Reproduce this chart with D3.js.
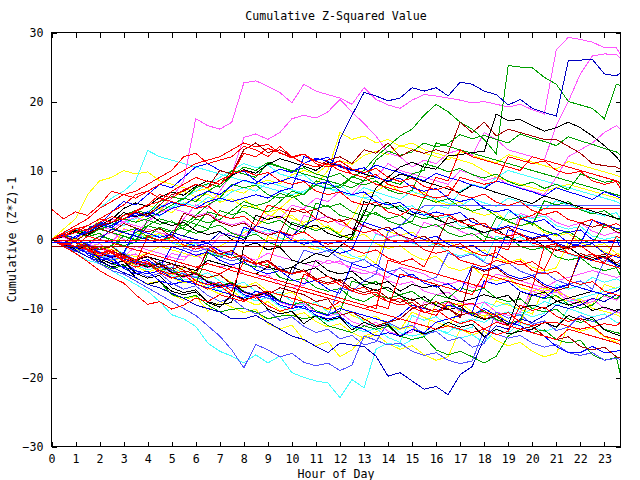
<!DOCTYPE html>
<html><head><meta charset="utf-8">
<script src="https://cdn.jsdelivr.net/npm/d3@7"></script>
<style>
body{margin:0;background:#fff}
svg{display:block}
text{font-family:"DejaVu Sans Mono","Liberation Mono",monospace;font-size:11.6px;fill:#000}
</style>
</head><body>
<svg id="chart" width="640" height="480"></svg>
<script>
// ---- data ----
const title = "Cumulative Z-Squared Value";
const xLabel = "Hour of Day";
const yLabel = "Cumulative (Z*Z)-1";
const hours = [0,0.5,1,1.5,2,2.5,3,3.5,4,4.5,5,5.5,6,6.5,7,7.5,8,8.5,9,9.5,10,10.5,11,11.5,12,12.5,13,13.5,14,14.5,15,15.5,16,16.5,17,17.5,18,18.5,19,19.5,20,20.5,21,21.5,22,22.5,23,23.5,23.67];
const xTickValues = [0,1,2,3,4,5,6,7,8,9,10,11,12,13,14,15,16,17,18,19,20,21,22,23];
const yTickValues = [-30,-20,-10,0,10,20,30];

const M1 = [0,-0.5,-1,0.5,0,-0.4,1.5,1,2.5,4,6,8.5, 17.5,16.5,16,17, 22.7,23,22.2,21.3, 19.8,22.5,21.5,21, 20.5,19.6,22,20.3, 19.5,19,20.2,21, 20.8,20.5,20.2,19.8, 20,19.6,19.2,19.6, 18.8,18.2,27.5,29.3, 29,28.6,27.8,27.8, 26.8];
const M2 = [0,0.3,-0.5,-1,0.5,1,0,-0.5,2,1.5,1,3, 5,4.5,7,9.5, 14.8,15.3,14.5,15.5, 17.5,18,17.6,18.5, 20.3,18.5,16.8,15, 12.5,12,10.5,11.5, 11,12.5,13,12.2, 15.5,14.5,13,12.5, 12,11.5,16.5,20, 24,26.6,26.9,26.8, 26.2];
const M3 = [0,-0.4,-1,-1.5,-1.2,-2,-2.5,-1,-1.5,-2,-2.6,-3, -1,-1.5,0.5,1, 0.5,2,3.5,3, 5,4.5,6,5.5, 7,6.5,8.5,9, 11,10,9.5,9, 8.5,8,10,9.5, 8.5,9,8,7.5, 7,6.5,9,12, 13,14,15.5,16.5, 16];
const M4 = [0,0.5,1,2,1.5,3,2.5,2,1.5,1,0.5,0, -0.5,-1,-1.5,-2, -2.5,-3,-2,-2.5, -3,-3.5,-4,-3, -3.5,-4,-4.5,-5, -5.5,-4,-4.5,-5, -6,-6.5,-6,-7, -6.5,-5,-5.5,-6, -6.5,-7,-6,-5.5, -5,-4.5,-5,-5.5, -5.3];
const M5 = [0,0.5,-0.5,-1,-0.6,-2,-2.5,-2.1,-3.5,-4,-2,-2.5, -2.1,-3.5,-4,-3.6, -5,-5.5,-5.1,-6.5, -7,-6.6,-3,-3.5, -3.1,-4.5,-5,-4.6, -6,-6.5,-6.1,-7.5, -8,-7.6,-9,-9.5, -9.1,-10.5,-11,-10.6, -7,-7.5,-7.1,-8.5, -9,-8.6,-10,-10.5, -10.6];
const B1 = [0,-0.5,-1,0.5,0,1.5,1,0.5,0,-0.5,1,0.5, 0,-0.5,1,0.5, 0,2,1.5,1, 0.5,2,3,9, 14.5,18,21.3,20.8, 20.1,20.5,22,21.5, 22,20.8,22.8,22.5, 21.5,21,19.5,20.3, 19,18.4,17.9,25.9, 26,26.1,24,23.7, 24.2];
const B3 = [0,-0.5,-1.2,-2,-2.5,-3.2,-4,-4.5,-5,-4.5,-5.5,-6, -6.5,-7,-7.5,-8, -8.5,-7.5,-8,-9, -9.5,-10,-10.5,-11, -10,-10.5,-11,-11.5, -12,-11,-9.5,-10, -10.5,-9.5,-10,-11, -10,-11,-12,-12.5, -13.5,-14,-15.5,-16.4, -16.4,-15.5,-16.4,-16.2, -16];
const B4 = [0,-0.5,0.5,1,2,4,5.5,5,6.5,8,7.5,9, 10.5,11,10,9.5, 9.9,8.5,8,8.4, 9,8.5,8,8.4, 7,6.5,6.9,5.5, 5,5.4,4,3.5, 4,3.5,3.9,2.5, 2,1.5,2,1.5, 1,0.5,0.9,-0.5, -1,-0.6,-2,-2.5, -2.7];
const B5 = [0,0.5,1,1.5,2.5,2,3,3.5,4,3.5,4.5,5, 4.5,5.5,6,5.5, 6,6.5,6,7, 7.5,12,11.5,11.9, 10.5,10,10.4,9, 8.5,8.9,7.5,7, 7.4,6,5.5,5.9, 4.5,4,4.4,3, 2.5,2.9,1.5,1, 1.4,0,-0.5,-0.1, -1.2];
const B6 = [0,-0.8,-0.4,-2.2,-3,-2.6,-4.2,-5,-4.6,-6,-6.5,-6.1, -6,-6.5,-7,-6.6, -8,-8.5,-8.1,-9.5, -10,-9.6,-11,-11.5, -11.1,-12.5,-13,-14, -13.5,-14,-13,-13.5, -12,-11.5,-11,-10.5, -6,-6.5,-6.1,-7.5, -8,-8.5,-7,-6.5, -7,-7.5,-8,-7.5, -7.2];
const G1 = [0,-0.5,-1,-0.5,0.5,0,-0.5,1,2,1.5,1,0.5, 2,4,3.5,3, 5,4.5,4,5.5, 7,6.5,8.5,8, 7.5,9,10,12, 13.5,15,16,18, 19.6,18.5,17,16, 14.5,12.4,25.2,25, 24.9,23.5,22.5,20, 19.5,19,17.5,22.5, 22.3];
const G2 = [0,-1,-1.8,-1.4,-3.5,-4.2,-3.8,-5.5,-6.5,-6.1,-8,-8.5, -8.1,-9.5,-10.5,-10.1, -10,-10.5,-11.5,-11.1, -11,-11.5,-11.1,-12.5, -13,-13.5,-12.5,-13, -12.6,-14,-14.5,-14.1, -16,-16.7,-16.2,-17, -17.9,-16.9,-14,-13, -13.5,-13.1,-14.5,-15, -14.6,-16.7,-17.5,-17.1, -19.6];
const G3 = [0,0.5,1,2,1.5,1,0.5,0,2,3,2.5,2, 3.5,5,6,8, 7.5,7.9,6.5,6, 6.4,5,4.5,4.9, 3.5,3,2.5,5, 4.5,4.9,3.5,3, 3.4,2,1.5,1.9, 0.5,0,0.4,-1, -1.5,-1.1,-2.5,-3, -2.6,-4,-4.5,-4.1, -5.2];
const G4 = [0,-0.5,-1.2,-0.8,-2.8,-3.5,-4,-3,-3.5,-4.5,-4.1,-6, -6.5,-2,-2.5,-2.1, -3.5,-4,-3.6,-5.5, -6,-5.6,-7,-7.5, -7.1,-8.5,-9,-8, -8.5,-8.1,-9.5,-10, -8,-8.5,-7,-7.5, -7.1,-8.5,-9,-8.6, -10,-10.5,-10.1,-11.5, -12,-11.6,-13,-13.5, -13.6];
const G5 = [0,0.5,1,0.5,1.5,2,3,2.5,3,4,5,6, 5.5,7,8,10, 9.5,9,11,10.5, 10,9.5,9,8.5, 8,7.5,8.5,9, 8.5,8,9.5,10, 14,13.5,13,12.5, 12,11.5,11,10.5, 10,9.5,9,8.5, 8,7.5,7,6.5, 6.3];
const K1 = [0,-0.5,-1,-1.5,-1,-2,-2.5,-3,-2.5,-3,-3.5,-4, -4.5,-3,-3.5,-4, -4.5,-5,-4,-4.5, -4,-3,-2,-2.5, -1,0.5,3.7,7.5, 9,10.5,11.2,10.5, 10.2,12.1,12.3,12.6, 12.8,18.2,17.2,17.4, 16.5,15.7,16.2,17, 16.2,15,13.6,12, 11.2];
const K2 = [0,-0.5,-1.2,-0.8,-3,-4,-3.6,-5.5,-6.5,-6.1,-7.5,-8, -7.6,-9,-9.5,-9.1, -1,-0.5,-1.5,-1.1, -3,-3.5,-3.1,-4.5, -5,-4.6,-6,-6.5, -6.1,-7.5,-6.5,-7, -6.6,-8.5,-9,-8.6, -8,-8.5,-8.1,-10, -9.5,-10,-9,-8.5, -8,-7.5,-8,-7.5, -7];
const K3 = [0,-0.7,-1.4,-1,-2.8,-3.5,-3.1,-4.9,-5.6,-5.2,-7,-7.7, -7.3,-9.1,-9.8,-8, -8.7,-8.3,-10.1,-10.8, -10.4,-12.2,-11,-11.7, -11.3,-13.1,-12,-12.7, -12.3,-14.1,-13,-13.7, -13,-12,-12.7,-12.3, -14.1,-13,-13.7,-13.3, -13,-12,-12.7,-11, -11.7,-11.3,-13.1,-13.8, -13.9];
const D1 = [0,0.5,1,1.5,2,2.5,3,4,3.5,5,6.5,7, 8,7.5,10,9.5, 13,14,12.6,13, 12,11,10.5,11.5, 12,11,13,12.5, 14,12,13,12.5, 13,12.5,17,15.5, 17,15,16,15.5, 15,14.5,14.5,13.5, 12.5,11,10.7,10.5, 10.2];
const D2 = [0,0.5,-0.5,-1,-2,-1.5,-2.5,-3,-3.5,-4,-3.5,-4.5, -5,-5.5,-5.1,-6.5, -7,-6.6,-8,-7, -7.5,-8,-9,-8.6, -11,-10.5,-11.5,-12.5, -12,-11.5,-10,-9.5, -9,-10,-11,-10.5, -11.5,-11.1,-12.5,-13, -12.6,-14,-14.5,-14.1, -15.5,-16,-15.6,-17, -17.2];
const R1 = [0,1,2,3,4.5,5.5,6.5,7,8,9,10,12, 12.5,11,11.5,12, 13.5,13,12,13.5, 12,11,10.5,11, 10,9.5,9,8, 7.5,7,6.5,6, 9,8.5,13,12, 11.5,11,10.5,10, 12,11.5,11,10.5, 10,9.5,9,8.5, 8.2];
const R2 = [4.4,3,4,3.5,5,7,6.5,6,7,6,5.5,5, 4.5,4.9,3.5,3, 3.4,2,5,4.5, 4,4.4,3,2.5, 2.9,1.5,1,1.4, 0,-0.5,-0.1,-1.5, -2,-1.6,-3,-3.5, -4,-3,-3.5,-3.1, -4.5,-5,-4.6,-6, -6.5,-6.1,-7.5,-8, -8.2];
const R3 = [0,-0.5,-1,-1.5,-1,-2,-2.5,-3,-2,-2.5,-3,-3.5, -4,-4.5,-5,-4, -4.5,-5,-5.5,-6, -6.5,-7,-7.5,-8, -8.5,-9,-9.5,-10, -3,-3.5,-4,-4.5, -5,-5.5,-6,-6.5, -7,-1,-1.5,3, 3.5,4.5,4.5,4.5, 4.5,4.5,4.5,4.5, 4.5];
const R4 = [0,-1,-2,-3.2,-4.5,-5.5,-6.3,-8,-9.4,-9,-10.1,-9.5, -8.5,-9,-8,-8.5, -9,-8,-7.5,-8, -8.5,-9,-9.5,-10, -9,-9.5,-10,-10.5, -11,-11.5,-12,-12.5, -13,-12.5,-13,-13.5, -13,-12,-12.5,-13, -13.5,-14,-14.5,-13, -13.5,-14,-14.5,-15, -15.2];
const R5 = [0,0.5,1.5,2,3,2.5,3.5,4,5,5.5,7,8, 9,8.4,8,9.5, 10,9.3,9.7,8.5, 8,8.4,7,6.5, 6.9,5.5,5,5.4, 4,3.5,4.5,4, 3.3,3.7,2.5,2, 2.4,1,0.5,0.9, -0.5,-1,-0.6,-2, -2.5,-2.1,-3.5,-4, -4.2];
const R6 = [0,-0.6,-0.3,-1.5,-2.1,-1.7,-3,-3.6,-3.2,-4.5,-5,-4.6, -6,-6.6,-6.2,-7.5, -3,-3.6,-3.2,-4.5, -5,-4.6,-6,-6.5, -6.1,-7.5,-8,-7.6, -9,-9.5,-9.1,-10.5, -11,-9,-9.6,-9.2, -10.5,-11,-10.6,-12, -12.5,-12.1,-12,-12.6, -13,-12.6,-14,-14.5, -14.7];
const R7 = [0,-0.5,-1,0.5,0,-0.5,-1,-1.5,-2,-2.5,-3,-3.5, -4,-3.5,-4,-4.5, -5,-5.5,-6,-6.5, -7,-7.5,-8,-8.5, -9,-9.5,-10,-9.5, -10,-5,-5.5,-6, -6.5,-7,-7.5,-8, -5,-5.5,-6,-6.5, -7,-1,-1.5,-2, -2.5,-3,-3.5,0.5, 0.2];
const R8 = [0,0.5,1,2,3,4,5,6.5,7,8,9,10, 11,11.5,12,13, 14,13.4,13.8,12.5, 12,12.4,11,10.5, 10.9,9.5,9,9.4, 8,7.5,7.9,6.5, 6,6.4,9,8.5, 8,8.4,12,11.5, 11,11.4,10,9.5, 9.9,8.5,8,8.4, 7.3];
const Y1 = [0,1.5,3,6.5,8.5,9,10,9.5,9.8,8.5,8,7.5, 7,7.4,6,5.5, 5.9,4.5,4,4.4, 3,2.5,2.9,1.5, 1,3,6.5,7, 8,7,6.5,6.9, 5.5,5,5.4,4, 3.5,3.9,2.5,2, 2.4,1,0.5,0.9, -0.5,-1,-0.6,-2, -2.2];
const Y2 = [0,-0.5,-1,-1.5,-1,-1.5,-2,-2.5,-2,-1,-1.5,-2, -2.5,-2,-1,0, 1,2,3,4.5, 6,7,8,10, 15.5,14.5,15,14, 14.5,13.5,14,13, 12.5,12,11.5,11, 10,9,8.5,8, 7.5,7,7.5,8, 7.5,7,6.5,6, 5.8];
const Y3 = [0,-0.9,-0.4,-1.6,-2.3,-1.9,-3.1,-3.6,-3.2,-4.5,-5.2,-4, -4.8,-5.6,-5.1,-6.3, -6.9,-6.2,-7.5,-8.1, -7.6,-9,-9.4,-10.2, -9.6,-11,-11.7,-11.1, -12.4,-13,-12.6,-14, -9,-9.8,-9.2,-10.5, -11.1,-10.6,-12,-12.5, -7,-7.8,-7.3,-8.5, -9.1,-8.6,-10,-10.5, -10.7];
const Y4 = [0,0.5,1.2,0.8,3,2.4,3.5,4.1,5,4.3,6,7, 6.2,6.6,5.4,5.9, 4.6,4.9,3.6,3.1, 3.5,2.1,1.6,2, 0.7,0.2,0.8,-0.6, -1.3,-0.9,-2.2,-3, -2.4,-4,-4.5,-3.9, -5.4,-6,-5.5,-7, -7.5,-6.9,-8.3,-9, -8.6,-10,-10.4,-10.9, -11.2];
const Y5 = [0,-0.8,-1.7,-1.2,-3.2,-4,-3.6,-5.6,-6.4,-6,-8,-8.8, -8.2,-10.4,-9,-9.8, -10.6,-10.1,-12.2,-13, -12.4,-14.6,-15.4,-14.8, -17,-16,-14,-13.4, -12.5,-13.1,-10.5,-11.3, -12,-12.6,-10.2,-10.9, -11.5,-8.9,-9.5,-10.1, -10.8,-7,-7.6,-8.3, -8.9,-9.5,-6.5,-7.1, -6.8];
const C1 = [0,1,2,3,4.5,6,7,8.5,12.9,12,11.5,11, 10.5,10,9.5,9, 8.5,8,7.5,7, 6.5,7,8,7.5, 7,6.5,6,5.5, 5,4.5,4,3.5, 5,4.5,7,8, 7.5,9,10,9.5, 9,8.5,8,7.5, 7,6.5,6,5.5, 5.2];
const C2 = [0,-1,-2,-3,-3.5,-4.5,-5.5,-6.5,-7.5,-9,-10.9,-11.5, -12.6,-15,-16.2,-16.9, -17.9,-16.7,-17.9,-16.9, -19.3,-20,-20.5,-20.8, -22.9,-20.3,-21.5,-15.9, -15,-15.5,-14.5,-14, -13,-13.5,-12,-11.5, -12,-11,-10.5,-11, -10,-9,-9.5,-9, -8.5,-8,-7.5,-7, -6.8];
const C3 = [0,-0.6,-0.2,-1.5,-2.1,-1.7,-3,-3.6,-3.1,-4.5,-4,-4.9, -5.4,-4.8,-6,-6.7, -6.2,-7.5,-8.1,-7.6, -9,-9.5,-9.1,-10.5, -11,-10.4,-12,-12.5, -12.1,-13.5,-14,-13.6, -13,-13.7,-14.3,-13.8, -15,-13,-13.6,-12, -12.7,-13.3,-12.8,-10, -10.6,-11.2,-10.8,-12, -12.2];
const C4 = [0,1,1.5,1,2,3,2.5,3,4,5,4.5,6, 7,8,9,10, 11,10.4,10.8,9.5, 9,9.4,8,7.5, 7.9,6.5,6,6.4, 5,4.5,4.9,3.5, 3,3.4,2,1.5, 1,1.4,4,3.5, 3,3.4,2,1.5, 1.9,0.5,0,0.4, -0.6];
const N1 = [0,-0.8,-1.6,-2.5,-3.2,-4,-4.8,-5.5,-6.5,-7,-7.8,-8.5, -9.5,-10,-10.5,-11.5, -11.5,-11,-12,-13, -14,-14.5,-15.5,-16.4, -15,-15.3,-15.5,-16.9, -19.8,-19.3,-20.5,-21.7, -21.3,-22.5,-19.6,-18.4, -14.3,-12.5,-13,-11.5, -12,-11,-9.5,-10, -9.5,-8.5,-9,-8, -8.3];
const P2 = [0,-0.6,-1.2,-1.8,-2.4,-3,-2.5,-3,-3.5,-4,-4.5,-5, -5.5,-6,-6.5,-7, -7.5,-8,-8.5,-9, -9.5,-10,-10.5,-11, -7,-7.5,-6,-5, 1,2,3.5,4.9, 4.9,4.9,4.9,4.9, 4.9,4.9,4.9,4.9, 4.9,4.9,4.9,4.9, 4.9,4.9,4.9,4.9, 4.9];
const P3 = [0,-0.8,-1.5,-2.5,-3.5,-4.5,-5,-6,-7,-8,-9,-10, -11,-12.5,-14,-16, -18.6,-15.2,-16,-17, -16.5,-17.8,-18.3,-17.9, -19,-18.2,-14,-14.6, -15.3,-15,-16.2,-16.8, -16.4,-17.5,-18,-17.6, -13,-13.7,-14.3,-13.9, -15,-15.6,-15.2,-16.4, -16.8,-16.4,-17.5,-17.2, -17.4];
const S1 = [0,0.6,0.2,1.5,2.4,2,3.5,4.2,3.8,5.5,6.2,5.8, 7.5,8.1,7.6,9.2, 10.5,10,11.2,10.6, 9.8,10.4,9.5,9, 9.6,8.3,7.9,8.5, 7.2,6.6,7.1,11, 10.5,9.8,10.3,9.4, 8.9,9.5,8.4,7.8, 8.3,7.4,8,7.2, 9.5,8.9,8.3,8.6, 8];
const S2 = [0,-0.7,-0.2,-1.4,-2,-1.5,-2.8,-3.4,-2.9,-4.1,-1,-1.6, -2.3,-1.8,-3,-3.7, -3.2,-4.4,-5,-4.5, -5.8,-6.4,-5.9,-7.2, -7.8,-3.5,-4.1,-3.6, -4.8,-5.5,-5,-6.3, -6.9,-6.4,-7.6,-3.8, -4.4,-3.9,-5.1,-5.7, -5.2,-6.5,-7.1,-6.6, -2.5,-3.1,-2.6,-3.8, -4];
const S3 = [0,0.8,1.6,1.2,2.5,3.3,2.9,4.2,5,6.5,6,7.2, 8,7.5,8.6,9.4, 12.5,12,13.2,12.6, 11.8,12.4,11.3,10.8, 11.4,10.2,9.7,10.3, 9,8.4,8.9,7.7, 7.2,7.7,6.5,6, 6.6,5.4,4.9,5.5, 4.2,3.6,4.1,2.9, 2.4,2.9,1.7,2.3, 2];
const S4 = [0,-0.5,-1.1,-0.7,-2,-2.6,-2.1,-3.4,-4,-3.5,-4.8,-5.4, -4.9,-6.2,-6.8,-6.3, -7.6,-8.2,-7.7,-9, -4,-4.6,-4.1,-5.4, -6,-5.5,-6.8,-7.4, -6.9,-8.2,-8.8,-8.3, -9.6,-10.2,-9.7,-11, -11.6,-11.1,-12.4,-7.5, -8.1,-7.6,-8.9,-9.5, -9,-10.3,-9.8,-10.4, -10];
const S5 = [0,0.4,1,0.5,1.6,2.4,2,3.3,3.9,3.4,4.7,5.3, 4.8,6.1,5.6,6.9, 7.5,7,8.3,7.8, 7.2,6.7,8,7.4, 6.8,6.3,7.5,6.9, 6.3,5.8,7,6.4, 5.8,5.3,4.8,5.9, 5.3,4.8,6,5.4, 4.9,4.4,5.6,5, 4.4,3.9,3.4,3.9, 3];
const S6 = [0,-0.6,-1.2,-0.8,-2.1,-2.7,-2.2,-3.5,-4.1,-3.6,-4.9,-5.5, -5,-6.3,-6.9,-6.4, -7.7,-8.3,-7.8,-9.1, -9.7,-9.2,-10.5,-11.1, -10.6,-11.9,-12.5,-12, -13.3,-13.9,-13.4,-9, -9.6,-9.1,-10.4,-11, -10.5,-11.8,-12.4,-11.9, -7.5,-8.1,-7.6,-8.9, -9.5,-9,-8.2,-8.8, -8.3];
const S7 = [0,0.5,-0.1,1,2.2,1.7,3,2.5,3.8,4.4,3.9,5.2, 5.8,5.3,6.6,7.2, 6.7,8,8.6,8.1, 9.4,10,9.5,10.8, 11.4,10.9,12.2,12.8, 12.3,13.6,13.1,12.5, 12,11.5,12.7,12.2, 11.6,11.1,12.3,11.8, 11.2,10.7,10.2,11.3, 10.8,10.3,9.8,9.3, 9];
const S8 = [0,-0.5,0.2,-0.9,-1.5,-1,-2.3,-2.9,-2.4,-3.7,-4.3,-3.8, -5.1,-1.5,-2.1,-1.6, -2.9,-3.5,-3,-4.3, -4.9,-4.4,-5.7,-6.3, -5.8,-7.1,-7.7,-7.2, -8.5,-9.1,-8.6,-9.9, -10.5,-10,-11.3,-4, -4.6,-4.1,-5.4,-6, -5.5,-6.8,-7.4,-6.9, -2,-2.6,-2.1,-3.4, -3];
const S9 = [0,-0.9,-1.8,-1.3,-2.7,-3.6,-3.1,-4.5,-5.4,-4.9,-6.3,-7.2, -6.7,-8.1,-9,-8.5, -9.9,-10.8,-10.3,-11.7, -11.2,-12.6,-13.5,-13, -14.4,-13.9,-15.3,-14.8, -12,-12.9,-12.4,-13.8, -13.3,-14.7,-14.2,-15.6, -15.1,-10.5,-11.4,-10.9, -12.3,-11.8,-13.2,-12.7, -11,-11.9,-11.4,-10.5, -10.2];
const S10 = [0,-0.5,-1.1,-0.6,-1.9,-2.5,-2,-3.3,-3.9,-3.4,-4.7,-5.3, -4.8,-6.1,-6.7,-6.2, -7.5,-8.1,-7.6,-8.9, -9.5,-9,-10.3,-10.9, -10.4,-6,-6.6,-6.1, -7.4,-8,-7.5,-8.8, -9.4,-8.9,-10.2,-10.8, -10.3,-11.6,-12.2,-11.7, -8,-8.6,-8.1,-9.4, -10,-9.5,-8,-8.6, -8.1];
const S11 = [0,-0.8,-0.3,-1.6,-2.4,-1.9,-3.2,-4,-3.5,-4.8,-5.6,-5.1, -6.4,-7.2,-6.7,-8, -8.8,-8.3,-9.6,-10.4, -9.9,-5,-5.8,-5.3, -6.6,-7.4,-6.9,-8.2, -9,-8.5,-9.8,-10.6, -10.1,-11.4,-12.2,-11.7, -13,-13.8,-13.3,-9.5, -10.3,-9.8,-11.1,-11.9, -11.4,-12.7,-12.2,-12.5, -12];
const S12 = [0,0.7,0.2,1.4,2.2,1.7,3,3.8,3.3,4.6,5.4,4.9, 6.2,7,6.5,7.8, 8.6,8.1,9.4,10.2, 9.7,11,11.8,11.3, 10.7,10.2,9.6,10.8, 10.2,9.7,9.1,8.5, 9.6,9,8.5,7.9, 7.4,8.5,8,7.4, 6.9,6.3,7.5,6.9, 6.4,5.8,6.9,6.3, 6];
const S13 = [0,0.5,1.3,0.8,2.1,2.9,4.5,5.3,4.8,6.1,6.9,6.4, 7.7,8.5,8,9.3, 10.1,9.6,10.9,11.7, 11.2,10.6,10,11.2, 10.6,10.1,9.5,9, 8.4,9.5,9,8.4, 7.9,7.3,6.8,7.9, 7.4,6.8,6.3,5.7, 5.2,6.3,5.8,5.2, 4.7,4.1,3.6,3.1, 3];
const S14 = [0,-0.6,-1.3,-0.9,-2.2,-2.9,-2.4,-3.7,-4.4,-3.9,-5.2,-5.9, -5.4,-6.7,-7.4,-6.9, -8.2,-8.9,-8.4,-9.7, -10.4,-9.9,-11.2,-11.9, -11.4,-12.7,-13.4,-12.9, -14.2,-14.9,-11,-11.7, -11.2,-12.5,-13.2,-12.7, -9,-9.7,-9.2,-10.5, -11.2,-10.7,-6.5,-7.2, -6.7,-5.5,-6.2,-5.7, -6];
const S15 = [0,-0.5,0.2,-0.8,-1.4,-0.9,0.5,-0.1,0.4,1.8,1.2,1.7, 3,2.4,2.9,4.2, 5.5,4.9,5.4,6.7, 6.1,6.6,7.9,7.3, 7.8,9.1,8.5,11.5, 12.8,12.2,12.7,14, 13.4,13.9,15.2,14.6, 15.1,14.5,14,15.3, 14.7,14.2,13.6,14.9, 14.3,13.8,13.2,12.7, 12.2];
const S16 = [0,-0.7,-1.5,-1,-2.3,-3.1,-2.6,-3.9,-4.7,-4.2,-5.5,-6.3, -5.8,-7.1,-7.9,-7.4, -8.7,-9.5,-9,-10.3, -11.1,-10.6,-11.9,-12.7, -12.2,-13.5,-14.3,-13.8, -15.1,-15.9,-15.4,-16.7, -17.5,-17,-13,-13.8, -13.3,-14.6,-15.4,-14.9, -16.2,-17,-16.5,-12.5, -13.3,-12.8,-14.1,-14.9, -14.4];
const T1 = [0,-0.6,-1.2,-0.7,-1.9,-2.5,-2,1.5,0.9,0.3,0.8,-0.4, -1,-0.5,-1.7,-2.3, 1.8,1.2,0.6,1.1, -0.1,-0.7,-0.2,-1.4, -2,-1.5,2.5,1.9, 1.3,1.8,0.6,0, 0.5,-0.7,-1.3,-0.8, -2,-2.6,1.4,0.8, 0.2,0.7,-0.5,-1.1, -0.6,2.8,2.2,1.6, 1.5];
const T2 = [0,0.5,1.4,0.9,2.3,1.7,1.1,1.6,0.4,-0.2,0.3,2.8, 2.2,1.6,2.1,0.9, 0.3,0.8,-0.4,-1, 2.5,1.9,1.3,1.8, 0.6,0,4.2,3.6, 3,3.5,2.3,1.7, 2.2,1,0.4,0.9, -0.3,3.2,2.6,2, 2.5,1.3,0.7,1.2, 0,-0.6,2.1,1.5, 1.3];
const T3 = [0,-0.7,-0.2,-1.4,-2,-1.5,-2.7,-3.3,0.5,-0.1,0.4,-0.8, -1.4,-0.9,-2.1,-2.7, -2.2,-3.4,-4,1.2, 0.6,1.1,-0.1,-0.7, -0.2,-1.4,-2,-1.5, -2.7,-3.3,-2.8,-4, -0.5,-1.1,-0.6,-1.8, -2.4,-1.9,-3.1,-3.7, -3.2,-4.4,-0.8,-1.4, -0.9,-2.1,-2.7,-2.2, -2.5];
const T4 = [0,0.6,0.1,1.3,1.9,1.4,2.6,3.2,2.7,3.9,4.5,4, 3.4,3.9,2.7,2.1, 2.6,1.4,0.8,1.3, 0.1,3.5,2.9,3.4, 2.2,1.6,2.1,0.9, 0.3,0.8,-0.4,2.5, 1.9,2.4,1.2,0.6, 1.1,-0.1,-0.7,3.8, 3.2,3.7,2.5,1.9, 2.4,1.2,0.6,1.1, 0.8];
const T5 = [0,-0.5,0.3,-0.8,-1.4,-0.9,-2.1,0.8,0.2,0.7,-0.5,-1.1, -0.6,-1.8,-2.4,-1.9, 1.5,0.9,1.4,0.2, -0.4,0.1,-1.1,-1.7, -1.2,-2.4,-3,0.8, 0.2,0.7,-0.5,-1.1, -0.6,-1.8,-2.4,-1.9, -3.1,0.5,-0.1,0.4, -0.8,-1.4,-0.9,-2.1, -2.7,-2.2,-3.4,-4, -3.6];
const T6 = [0,0.4,1.1,0.6,1.8,2.4,3.9,3.3,3.8,2.6,2,2.5, 1.3,0.7,1.2,0, -0.6,3.5,2.9,3.4, 2.2,1.6,2.1,0.9, 0.3,0.8,5.5,4.9, 5.4,4.2,3.6,4.1, 2.9,2.3,2.8,1.6, 1,1.5,0.3,-0.3, 0.2,-1,-1.6,-1.1, -2.3,-2.9,-2.4,-3.6, -3.8];
const T7 = [0,-0.6,0,-1.2,-0.6,-1.8,1.6,1,0.4,0.9,-0.3,-0.9, -0.4,-1.6,-2.2,-1.7, -2.9,-3.5,0.4,-0.2, 0.3,-0.9,-1.5,-1, -2.2,-2.8,-2.3,-3.5, 1.2,0.6,1.1,-0.1, -0.7,-0.2,-1.4,-2, -1.5,-2.7,-3.3,-2.8, -4,-4.6,-4.1,-0.5, -1.1,-0.6,-1.8,-2.4, -2.6];
const T8 = [0,0.5,-0.2,0.9,1.6,1,2.3,1.7,1.1,1.6,0.4,3.8, 3.2,3.7,2.5,1.9, 2.4,1.2,0.6,1.1, 4.5,3.9,4.4,3.2, 2.6,3.1,1.9,1.3, 1.8,0.6,0,0.5, -0.7,3.2,2.6,3.1, 1.9,1.3,1.8,0.6, 0,0.5,-0.7,-1.3, 2.4,1.8,2.3,1.1, 1];
const T9 = [0,-0.5,-1.1,-0.6,-1.8,-2.4,-1.9,-3.1,-3.7,-3.2,-4.4,-1.2, -1.8,-1.3,-2.5,-3.1, -2.6,-3.8,-4.4,-3.9, -5.1,-1.5,-2.1,-1.6, -2.8,-3.4,-2.9,-4.1, -4.7,-4.2,-5.4,-6, -5.5,-2,-2.6,-2.1, -3.3,-3.9,-3.4,-4.6, -5.2,-4.7,-5.9,-6.5, -6,-7.2,-3,-3.6, -3.5];
const T10 = [0,0.5,1,0.4,0.9,-0.3,-0.9,-0.4,2.8,2.2,2.7,1.5, 0.9,1.4,4.2,3.6, 4.1,2.9,2.3,2.8, 1.6,1,5.3,4.7, 5.2,4,3.4,3.9, 2.7,2.1,2.6,6, 5.4,5.9,4.7,4.1, 4.6,3.4,2.8,3.3, 2.1,5.6,5,5.5, 4.3,3.7,4.2,3, 2.8];
const F1 = [-0.1,-0.1,-0.1,-0.1,-0.1,-0.1,-0.1,-0.1,-0.1,-0.1,-0.1,-0.1, -0.1,-0.1,-0.1,-0.1, -0.1,-0.1,-0.1,-0.1, -0.1,-0.1,-0.1,-0.1, -0.1,-0.1,-0.1,-0.1, -0.1,-0.1,-0.1,-0.1, -0.1,-0.1,-0.1,-0.1, -0.1,-0.1,-0.1,-0.1, -0.1,-0.1,-0.1,-0.1, -0.1,-0.1,-0.1,-0.1, -0.1];
const F2 = [-1,-1,-1,-1,-1,-1,-1,-1,-1,-1,-1,-1, -1,-1,-1,-1, -1,-1,-1,-1, -1,-1,-1,-1, -1,-1,-1,-1, -1,-1,-1,-1, -1,-1,-1,-1, -1,-1,-1,-1, -1,-1,-1,-1, -1,-1,-1,-1, -1];
const F3 = [-0.5,-0.5,-0.5,-0.5,-0.5,-0.5,-0.5,-0.5,-0.5,-0.5,-0.5,-0.5, -0.5,-0.5,-0.5,-0.5, -0.5,-0.5,-0.5,-0.5, -0.5,-0.5,-0.5,-0.5, -0.5,-0.5,-0.5,-0.5, -0.5,-0.5,-0.5,-0.5, -0.5,-0.5,-0.5,-0.5, -0.5,-0.5,-0.5,-0.5, -0.5,-0.5,-0.5,-0.5, -0.5,-0.5,-0.5,-0.5, -0.5];

const RED="#ff0000", GRN="#00a000", BLU="#0000ff", MAG="#ff55ff", CYN="#44ffff", YEL="#ffff00", BLK="#000000", DRD="#a00000", PER="#5050ff", NAV="#0000c0";

const seriesList = [
  [Y1,YEL],[Y2,YEL],[Y3,YEL],[Y4,YEL],[Y5,YEL],[S7,YEL],[S16,YEL],[T7,YEL],
  [C1,CYN],[C2,CYN],[C3,CYN],[C4,CYN],[S5,CYN],[S14,CYN],[T5,CYN],
  [M1,MAG],[M2,MAG],[M3,MAG],[M4,MAG],[M5,MAG],[S6,MAG],[T4,MAG],
  [G1,GRN],[G2,GRN],[G3,GRN],[G4,GRN],[G5,GRN],[S1,GRN],[S10,GRN],[S15,GRN],[T2,GRN],[T10,GRN],
  [P2,PER],[P3,PER],[S9,PER],[T9,PER],
  [K1,BLK],[K2,BLK],[K3,BLK],[S4,BLK],[S13,BLK],[T6,BLK],
  [B1,NAV],[B3,BLU],[B4,BLU],[B5,BLU],[B6,BLU],[N1,NAV],[S2,BLU],[S12,BLU],[T1,BLU],
  [D1,DRD],[D2,DRD],[S8,DRD],[T8,DRD],
  [R1,RED],[R2,RED],[R3,RED],[R4,RED],[R5,RED],[R6,RED],[R7,RED],[R8,RED],[S3,RED],[S11,RED],[T3,RED],
  [F3,BLU],[F2,DRD],[F1,RED]
];

// ---- drawing ----
const svg = d3.select("#chart");
const L = 51.5, R = 620.5, T = 32.5, B = 446.5;
const x = d3.scaleLinear().domain([0, 23.67]).range([L, R]);
const y = d3.scaleLinear().domain([-30, 30]).range([B, T]);

const line = d3.line()
  .defined((d, i) => i < hours.length && d != null)
  .x((d, i) => x(hours[i]))
  .y(d => y(d));

const gLines = svg.append("g");
seriesList.forEach(([vals, col]) => {
  gLines.append("path")
    .attr("d", line(vals))
    .attr("fill", "none")
    .attr("stroke", col)
    .attr("stroke-width", 1)
    .attr("shape-rendering", "crispEdges");
});

// axes (ticks point inward)
const axL = svg.append("g").attr("transform", `translate(${L},0)`)
  .call(d3.axisLeft(y).tickValues(yTickValues).tickSize(-5).tickSizeOuter(0).tickPadding(8).tickFormat(d3.format("d")));
const axR = svg.append("g").attr("transform", `translate(${R},0)`)
  .call(d3.axisRight(y).tickValues(yTickValues).tickSize(-5).tickSizeOuter(0).tickFormat(""));
const axB = svg.append("g").attr("transform", `translate(0,${B})`)
  .call(d3.axisBottom(x).tickValues(xTickValues).tickSize(-5).tickSizeOuter(0).tickPadding(8).tickFormat(d3.format("d")));
const axT = svg.append("g").attr("transform", `translate(0,${T})`)
  .call(d3.axisTop(x).tickValues(xTickValues).tickSize(-5).tickSizeOuter(0).tickFormat(""));
[axL, axR, axB, axT].forEach(g => {
  g.select(".domain").remove();
  g.selectAll("line").attr("shape-rendering", "crispEdges");
});

svg.append("rect")
  .attr("x", L).attr("y", T).attr("width", R - L).attr("height", B - T)
  .attr("fill", "none").attr("stroke", "#000").attr("shape-rendering", "crispEdges");

svg.append("text").attr("x", (L + R) / 2).attr("y", 20).attr("text-anchor", "middle").text(title);
svg.append("text").attr("x", (L + R) / 2).attr("y", 478).attr("text-anchor", "middle").text(xLabel);
svg.append("text").attr("transform", `translate(16,${(T + B) / 2}) rotate(-90)`).attr("text-anchor", "middle").text(yLabel);
</script>
</body></html>
